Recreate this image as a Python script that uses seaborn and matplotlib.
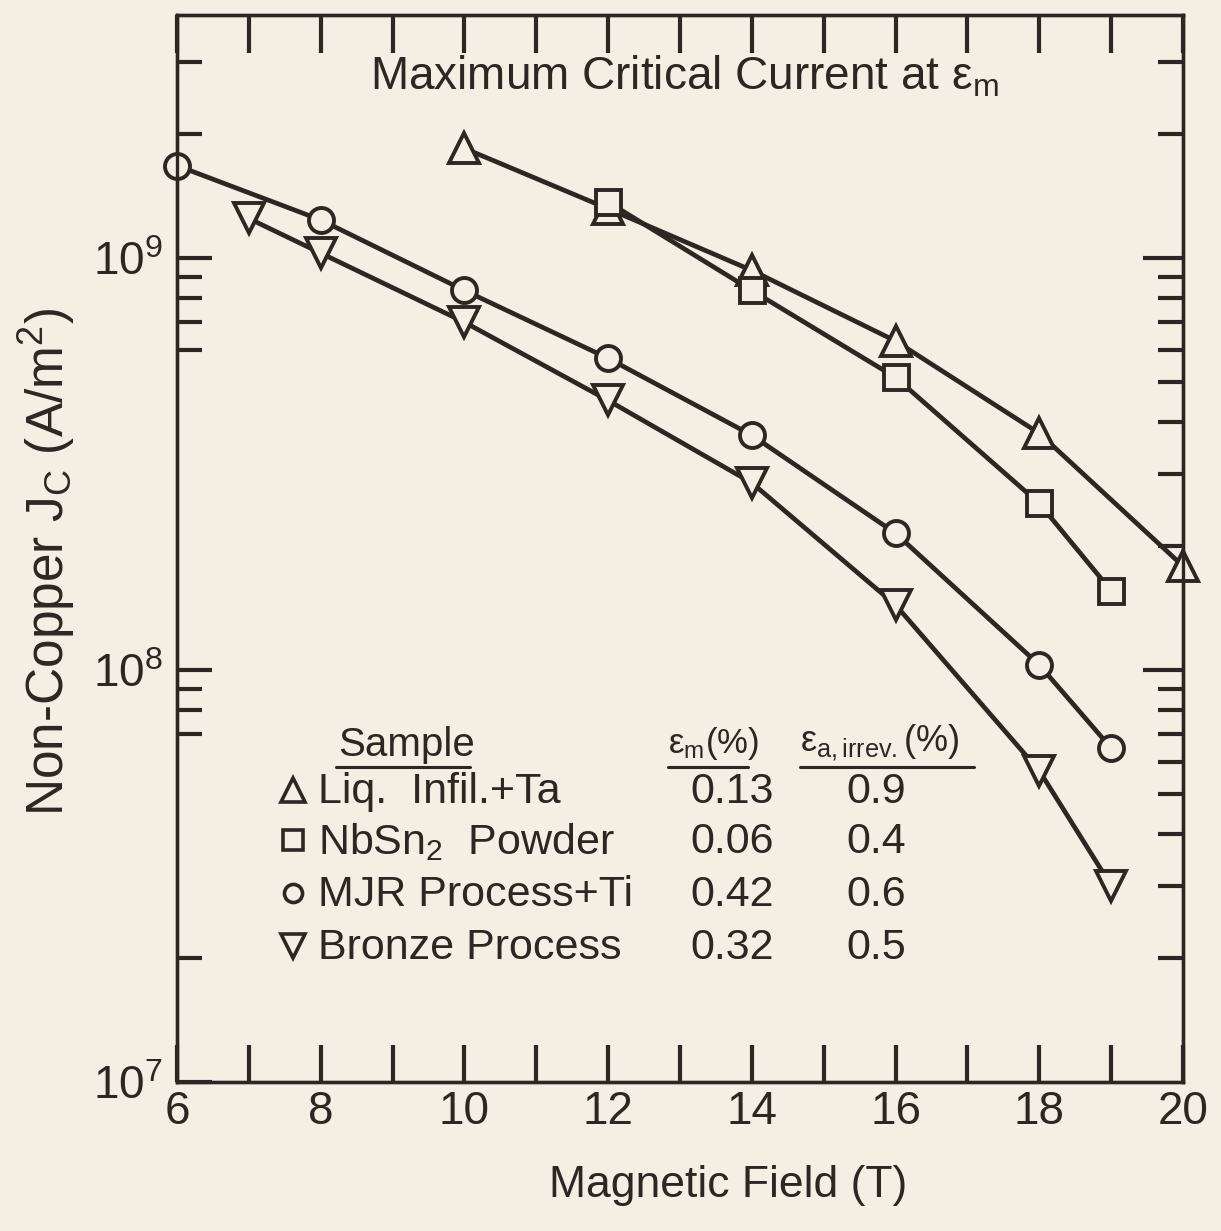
import numpy as np
import pandas as pd
import matplotlib
matplotlib.use("Agg")
import matplotlib.pyplot as plt
import seaborn as sns
from matplotlib.lines import Line2D
from matplotlib.ticker import FixedLocator, NullFormatter

# ---------------- data ----------------
field_liq = [10, 12, 14, 16, 18, 20]
jc_liq = [1.85e9, 1.32e9, 9.35e8, 6.3e8, 3.76e8, 1.79e8]

field_nbsn = [12, 14, 16, 18, 19]
jc_nbsn = [1.37e9, 8.36e8, 5.14e8, 2.54e8, 1.56e8]

field_mjr = [6, 8, 10, 12, 14, 16, 18, 19]
jc_mjr = [1.68e9, 1.24e9, 8.36e8, 5.72e8, 3.72e8, 2.15e8, 1.03e8, 6.47e7]

field_bronze = [7, 8, 10, 12, 14, 16, 18, 19]
jc_bronze = [1.25e9, 1.03e9, 7.0e8, 4.52e8, 2.85e8, 1.44e8, 5.7e7, 3.0e7]

sample_names = ["Liq.  Infil.+Ta", "NbSn$_2$  Powder", "MJR Process+Ti", "Bronze Process"]
sample_markers = ["^", "s", "o", "v"]
eps_m = ["0.13", "0.06", "0.42", "0.32"]
eps_irrev = ["0.9", "0.4", "0.6", "0.5"]

x_ticks = [6, 8, 10, 12, 14, 16, 18, 20]
x_tick_labels = ["6", "8", "10", "12", "14", "16", "18", "20"]
x_minor = [7, 9, 11, 13, 15, 17, 19]
y_ticks = [1e7, 1e8, 1e9]
y_tick_labels = ["10$^7$", "10$^8$", "10$^9$"]
y_minor_left = [3e9, 2e9, 9e8, 8e8, 7e8, 6e8, 9e7, 8e7, 7e7, 2e7]
y_minor_right = [3e9, 2e9] + [k * 1e8 for k in range(2, 10)] + [k * 1e7 for k in range(2, 10)]

title = "Maximum Critical Current at ε$_\\mathrm{m}$"
xlabel = "Magnetic Field (T)"
ylabel = "Non-Copper J$_\\mathrm{C}$ (A/m$^2$)"

# ---------------- style ----------------
BG = "#f3efe3"
INK = "#2d2622"

sns.set_theme(style="white")
plt.rcParams["font.family"] = ["Liberation Sans", "DejaVu Sans"]
plt.rcParams["mathtext.fontset"] = "custom"
plt.rcParams["mathtext.rm"] = "Liberation Sans"
plt.rcParams["mathtext.it"] = "Liberation Sans:italic"
plt.rcParams["mathtext.bf"] = "Liberation Sans:bold"
plt.rcParams["mathtext.sf"] = "Liberation Sans"
plt.rcParams["text.color"] = INK
plt.rcParams["axes.labelcolor"] = INK

W, H = 1221, 1231
fig = plt.figure(figsize=(W / 100, H / 100), dpi=100, facecolor=BG)
ax = fig.add_axes([177 / W, 1 - 1082 / H, (1183 - 177) / W, (1082 - 15) / H])
ax.set_facecolor(BG)

series = [
    (field_liq, jc_liq),
    (field_nbsn, jc_nbsn),
    (field_mjr, jc_mjr),
    (field_bronze, jc_bronze),
]
frames = []
for name, (xs, ys) in zip(sample_names, series):
    frames.append(pd.DataFrame({"field": xs, "jc": ys, "sample": name}))
df = pd.concat(frames, ignore_index=True)

msizes = [21, 18, 18, 21]
for name, mk, ms in zip(sample_names, sample_markers, msizes):
    sub = df[df["sample"] == name]
    sns.lineplot(data=sub, x="field", y="jc", ax=ax, color=INK, lw=3.4,
                 marker=mk, markersize=ms, markerfacecolor=BG,
                 markeredgecolor=INK, markeredgewidth=2.8,
                 estimator=None, sort=False, errorbar=None, clip_on=False,
                 zorder=3, legend=False)

ax.set_yscale("log")
ax.set_xlim(6, 20)
ax.set_ylim(1e7, 3.9e9)

ax.set_xticks(x_ticks, x_tick_labels)
ax.xaxis.set_minor_locator(FixedLocator(x_minor))
ax.set_yticks(y_ticks, y_tick_labels)
ax.yaxis.set_minor_locator(FixedLocator(y_minor_left))
ax.yaxis.set_minor_formatter(NullFormatter())

ax.tick_params(axis="x", which="both", direction="in", length=27, width=3,
               top=True, bottom=True, colors=INK, labelsize=33, pad=6)
ax.tick_params(axis="y", which="major", direction="in", length=25, width=3,
               left=True, right=False, colors=INK, labelsize=33, pad=10)
ax.tick_params(axis="y", which="minor", direction="in", length=18, width=3,
               left=True, right=False, colors=INK)

ax2 = ax.twinx()
ax2.set_yscale("log")
ax2.set_ylim(ax.get_ylim())
ax2.yaxis.set_major_locator(FixedLocator([1e8, 1e9]))
ax2.yaxis.set_minor_locator(FixedLocator(y_minor_right))
ax2.yaxis.set_major_formatter(NullFormatter())
ax2.yaxis.set_minor_formatter(NullFormatter())
ax2.tick_params(axis="y", which="major", direction="in", length=29, width=3,
                right=True, colors=INK)
ax2.tick_params(axis="y", which="minor", direction="in", length=18, width=3,
                right=True, colors=INK)

for a in (ax, ax2):
    for s in a.spines.values():
        s.set_visible(True)
        s.set_color(INK)
        s.set_linewidth(2.4)

ax.set_xlabel(xlabel, fontsize=32, va="center")
ax.xaxis.set_label_coords((728 - 177) / 1006, (1082 - 1185) / 1067)
ax.set_ylabel(ylabel, fontsize=37, va="center")
ax.yaxis.set_label_coords((47 - 177) / 1006, (1082 - 562) / 1067)

def fp(px, py):
    return px / W, 1 - py / H

fig.text(*fp(684, 77), title, ha="center", va="center", fontsize=33)

# ---------------- table legend ----------------
fig.text(*fp(338, 745), "Sample", ha="left", va="center", fontsize=29)
fig.text(*fp(668, 743), "ε$_\\mathrm{m}$(%)", ha="left", va="center", fontsize=25)
fig.text(*fp(800, 743), "ε$_\\mathrm{a,irrev.}$(%)", ha="left", va="center", fontsize=26)
for x0, x1 in [(336, 470), (668, 748), (800, 974)]:
    (a0, b0), (a1, b1) = fp(x0, 767), fp(x1, 767)
    fig.add_artist(Line2D([a0, a1], [b0, b0], color=INK, lw=2.2))

row_y = [792, 842, 895, 948]
sym_sizes = [17, 14, 13, 17]
for y, mk, ss, name, e1, e2 in zip(row_y, sample_markers, sym_sizes, sample_names,
                                   eps_m, eps_irrev):
    sx, sy = fp(293, y - 2)
    fig.add_artist(Line2D([sx], [sy], marker=mk, markersize=ss, markerfacecolor=BG,
                          markeredgecolor=INK, markeredgewidth=2.6, linestyle="none"))
    fig.text(*fp(318, y), name, ha="left", va="center", fontsize=31)
    fig.text(*fp(732, y), e1, ha="center", va="center", fontsize=31)
    fig.text(*fp(876, y), e2, ha="center", va="center", fontsize=31)

fig.savefig("out.png", dpi=100, facecolor=BG)
